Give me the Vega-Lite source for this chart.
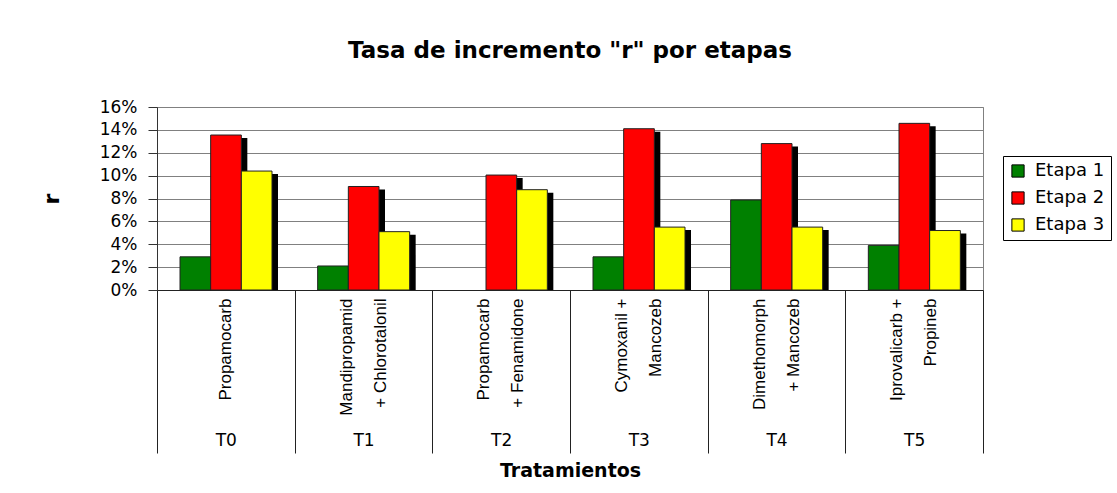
{
  "$schema": "https://vega.github.io/schema/vega-lite/v6.json",
  "autosize": {"type": "none"},
  "padding": {"left": 157, "top": 107, "right": 134, "bottom": 203},
  "width": 826,
  "height": 183,
  "background": "white",
  "config": {
    "view": {"stroke": "#808080", "strokeWidth": 1},
    "axis": {"labelColor": "black", "titleColor": "black"}
  },
  "title": {
    "text": "Tasa de incremento \"r\" por etapas",
    "font": "DejaVu Sans",
    "fontSize": 23,
    "fontWeight": "bold",
    "color": "black",
    "anchor": "middle",
    "frame": "group",
    "offset": 35
  },
  "data": {
    "values": [
      {"Tratamiento": "T0", "Etapa": "Etapa 1", "r": 0.029},
      {"Tratamiento": "T0", "Etapa": "Etapa 2", "r": 0.1355},
      {"Tratamiento": "T0", "Etapa": "Etapa 3", "r": 0.104},
      {"Tratamiento": "T1", "Etapa": "Etapa 1", "r": 0.021},
      {"Tratamiento": "T1", "Etapa": "Etapa 2", "r": 0.0905},
      {"Tratamiento": "T1", "Etapa": "Etapa 3", "r": 0.051},
      {"Tratamiento": "T2", "Etapa": "Etapa 1", "r": 0},
      {"Tratamiento": "T2", "Etapa": "Etapa 2", "r": 0.1005},
      {"Tratamiento": "T2", "Etapa": "Etapa 3", "r": 0.0877},
      {"Tratamiento": "T3", "Etapa": "Etapa 1", "r": 0.029},
      {"Tratamiento": "T3", "Etapa": "Etapa 2", "r": 0.141},
      {"Tratamiento": "T3", "Etapa": "Etapa 3", "r": 0.055},
      {"Tratamiento": "T4", "Etapa": "Etapa 1", "r": 0.0787},
      {"Tratamiento": "T4", "Etapa": "Etapa 2", "r": 0.128},
      {"Tratamiento": "T4", "Etapa": "Etapa 3", "r": 0.055},
      {"Tratamiento": "T5", "Etapa": "Etapa 1", "r": 0.039},
      {"Tratamiento": "T5", "Etapa": "Etapa 2", "r": 0.1457},
      {"Tratamiento": "T5", "Etapa": "Etapa 3", "r": 0.052}
    ]
  },
  "layer": [
    {
      "transform": [{"filter": "datum.r > 0"}],
      "mark": {"type": "bar", "color": "black", "yOffset": 3, "clip": true},
      "encoding": {
        "x": {
          "field": "Tratamiento", "type": "nominal", "sort": null,
          "scale": {"paddingInner": 0, "paddingOuter": 0},
          "axis": {
            "orient": "bottom",
            "title": "Tratamientos",
            "titleFont": "DejaVu Sans",
            "titleFontSize": 19,
            "titleFontWeight": "bold",
            "titlePadding": 8,
            "labelFont": "DejaVu Sans",
            "labelFontSize": 17,
            "labelAngle": 0,
            "labelPadding": -21,
            "ticks": true,
            "tickBand": "extent",
            "tickSize": 163,
            "tickColor": "#222",
            "domain": true,
            "domainColor": "#222",
            "grid": false
          }
        },
        "xOffset": {"field": "Etapa", "type": "nominal", "scale": {"range": [29, 121]}},
        "y": {
          "field": "r", "type": "quantitative",
          "scale": {"domain": [0, 0.16]},
          "axis": {
            "title": "r",
            "titleFont": "DejaVu Sans",
            "titleFontSize": 22,
            "titleFontWeight": "bold",
            "titlePadding": 36,
            "values": [0, 0.02, 0.04, 0.06, 0.08, 0.1, 0.12, 0.14, 0.16],
            "format": ".0%",
            "labelFont": "DejaVu Sans",
            "labelFontSize": 17,
            "labelPadding": 11,
            "tickSize": 9,
            "tickColor": "#333",
            "domainColor": "#333",
            "gridColor": "#808080",
            "gridOpacity": 1
          }
        }
      }
    },
    {
      "transform": [{"filter": "datum.r > 0"}],
      "mark": {"type": "bar", "stroke": "#222", "strokeWidth": 1},
      "encoding": {
        "x": {
          "field": "Tratamiento", "type": "nominal", "sort": null,
          "axis": {
            "orient": "bottom",
            "title": null,
            "ticks": false,
            "domain": false,
            "grid": false,
            "labelAngle": 270,
            "labelAlign": "right",
            "labelBaseline": "middle",
            "labelPadding": 8,
            "labelOffset": {"expr": "datum.value === 'T0' ? 0 : -17"},
            "labelFont": "Liberation Sans",
            "labelFontSize": 17,
            "labelLineHeight": 34,
            "labelLimit": 0,
            "labelExpr": "{'T0': ['Propamocarb'], 'T1': ['Mandipropamid', '+ Chlorotalonil'], 'T2': ['Propamocarb', '+ Fenamidone'], 'T3': ['Cymoxanil +', 'Mancozeb'], 'T4': ['Dimethomorph', '+ Mancozeb'], 'T5': ['Iprovalicarb +', 'Propineb']}[datum.value]"
          }
        },
        "xOffset": {"field": "Etapa", "type": "nominal", "scale": {"range": [23, 115]}},
        "y": {
          "field": "r", "type": "quantitative",
          "scale": {"domain": [0, 0.16]},
          "axis": {
            "title": "r",
            "titleFont": "DejaVu Sans",
            "titleFontSize": 22,
            "titleFontWeight": "bold",
            "titlePadding": 36,
            "values": [0, 0.02, 0.04, 0.06, 0.08, 0.1, 0.12, 0.14, 0.16],
            "format": ".0%",
            "labelFont": "DejaVu Sans",
            "labelFontSize": 17,
            "labelPadding": 11,
            "tickSize": 9,
            "tickColor": "#333",
            "domainColor": "#333",
            "gridColor": "#808080",
            "gridOpacity": 1
          }
        },
        "color": {
          "field": "Etapa", "type": "nominal",
          "scale": {"range": ["#008000", "#FF0000", "#FFFF00"]},
          "legend": {
            "title": null,
            "orient": "none",
            "legendX": 846,
            "legendY": 49,
            "strokeColor": "black",
            "fillColor": "white",
            "padding": 6,
            "rowPadding": 9,
            "labelFont": "DejaVu Sans",
            "labelFontSize": 18,
            "labelColor": "black",
            "labelOffset": 8,
            "symbolType": "square",
            "symbolSize": 150,
            "symbolStrokeColor": "black",
            "symbolStrokeWidth": 1
          }
        }
      }
    }
  ],
  "resolve": {"axis": {"x": "independent"}, "scale": {"xOffset": "independent"}}
}
